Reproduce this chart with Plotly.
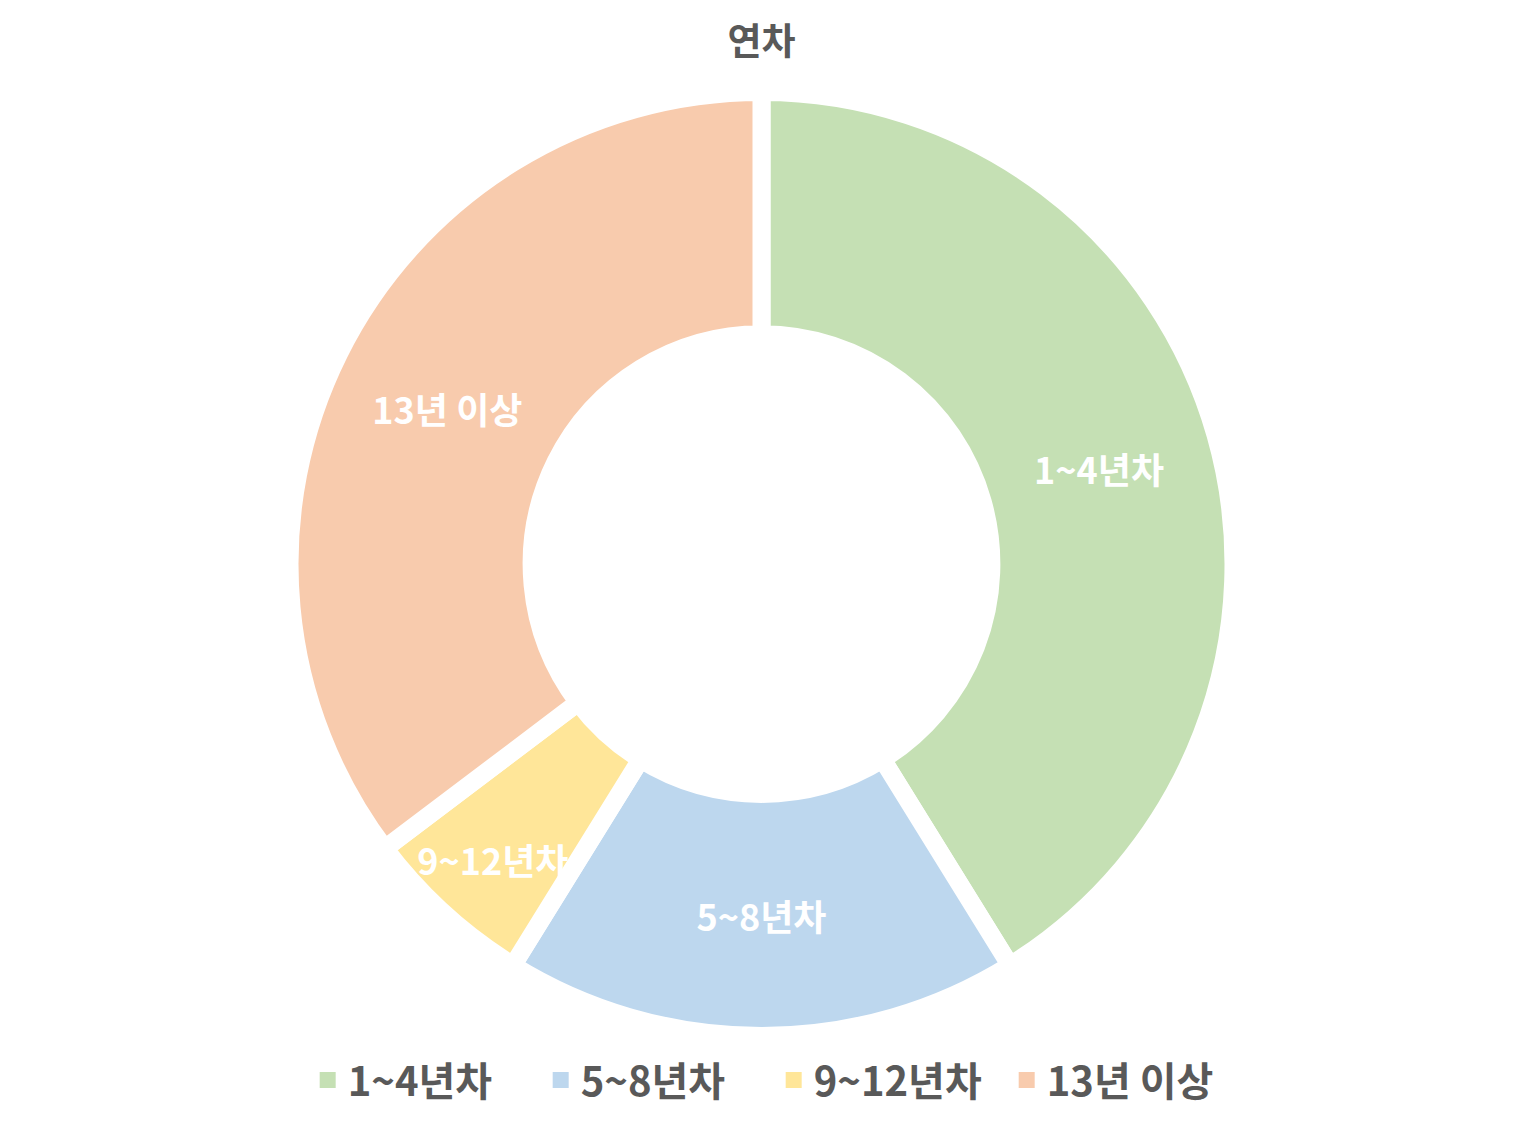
import plotly.graph_objects as go

categories = ["1~4년차", "5~8년차", "9~12년차", "13년 이상"]
values = [7, 3, 1, 6]
colors = ["#C5E0B4", "#BDD7EE", "#FFE699", "#F8CBAD"]
title_text = "연차"

FONT = "Noto Sans CJK KR"
GRAY = "#595959"

fig = go.Figure()

fig.add_trace(
    go.Pie(
        labels=categories,
        values=values,
        sort=False,
        direction="clockwise",
        rotation=0,
        hole=0.487,
        marker=dict(colors=colors, line=dict(color="white", width=18)),
        textinfo="label",
        textposition="inside",
        insidetextorientation="horizontal",
        textfont=dict(family=FONT, size=36, color="white", weight="bold"),
        hoverinfo="label+value+percent",
        showlegend=False,
        domain=dict(x=[0, 1], y=[0.0791, 0.9182]),
    )
)

# legend entries with larger square swatches
for name, col in zip(categories, colors):
    fig.add_trace(
        go.Scatter(
            x=[None],
            y=[None],
            mode="markers",
            name=name,
            marker=dict(symbol="square", size=16, color=col),
            showlegend=True,
            hoverinfo="skip",
        )
    )

fig.update_layout(
    width=1523,
    height=1125,
    margin=dict(l=0, r=0, t=0, b=0),
    paper_bgcolor="white",
    plot_bgcolor="white",
    xaxis=dict(visible=False),
    yaxis=dict(visible=False),
    title=dict(
        text=title_text,
        x=0.5,
        xanchor="center",
        y=1 - 42 / 1125,
        yanchor="middle",
        font=dict(family=FONT, size=37, color=GRAY, weight="bold"),
    ),
    uniformtext=dict(minsize=36, mode="show"),
    legend=dict(
        orientation="h",
        x=0.508,
        xanchor="center",
        y=1 - 1080 / 1125,
        yanchor="middle",
        font=dict(family=FONT, size=40, color=GRAY, weight="bold"),
        entrywidth=188,
        entrywidthmode="pixels",
    ),
)

fig.write_html("out.html")
